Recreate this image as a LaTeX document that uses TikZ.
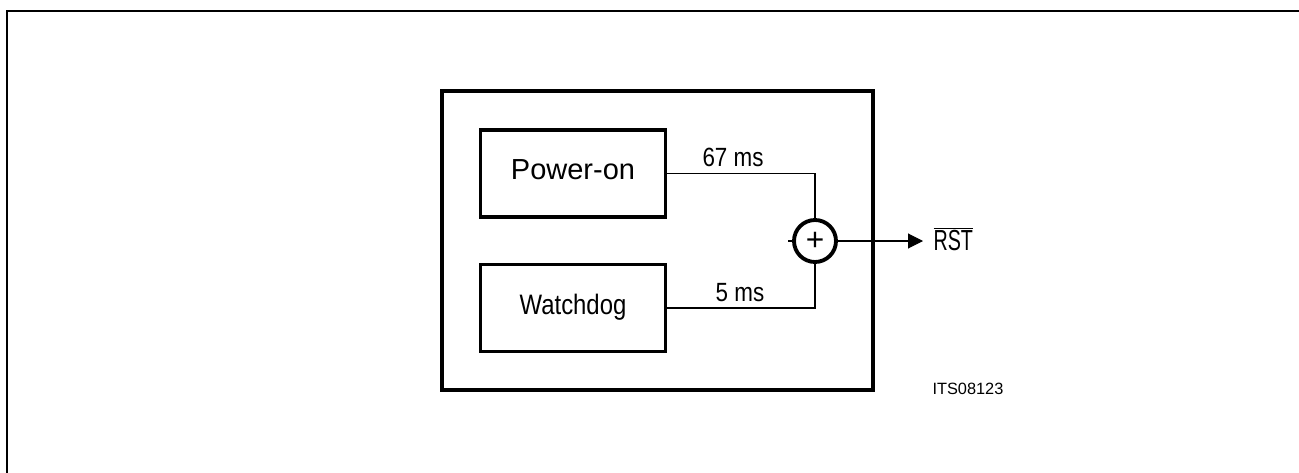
\documentclass[tikz,border=0pt]{standalone}
\usepackage{fontspec}
\setmainfont{Liberation Sans}
\newfontfamily\condfont[FakeStretch=0.85]{Liberation Sans}
\newfontfamily\rstfont[FakeStretch=0.68]{Liberation Sans}
\usetikzlibrary{arrows.meta}

\begin{document}
\begin{tikzpicture}[x=0.02cm,y=-0.02cm,line width=0.6pt,>={Triangle[length=0.3cm,width=0.3cm]},
  frame/.style={line width=1.6pt},
  heavy/.style={line width=2.2pt},
  block/.style={heavy,draw,minimum width=3.7cm,minimum height=1.74cm,
    inner sep=0pt,text depth=0pt,text height=0.716em},
  sumnode/.style={heavy,draw,circle,minimum size=0.84cm,inner sep=0pt}]
\useasboundingbox (0,0) rectangle (1299,473);
% ================= frame =================
\draw[frame] (7,473) |- (1299,11);
\draw[heavy] (442,91) rectangle (873,390);
% ================= blocks =================
\node[block,font=\fontsize{16.5pt}{18pt}\selectfont] (pwr) at (573,173.5) {Power-on};
\node[block,font=\condfont\fontsize{16pt}{18pt}\selectfont] (wdg) at (573,308) {Watchdog};
\node[sumnode,font=\fontsize{18pt}{20pt}\selectfont] (sum) at (815,241) {+};
% lines into the adder
\draw (pwr.east) -| (sum.north);
\draw (wdg.east) -| (sum.south);
\draw (788,241) -- (sum.west);
\node[anchor=base,font=\condfont\fontsize{15pt}{17pt}\selectfont] (t67) at (733,167) {67 ms};
\node[anchor=base,font=\condfont\fontsize{15pt}{17pt}\selectfont] (t5) at (740,301) {5 ms};
% output
\coordinate (out) at (923,241);
\draw[->] (sum.east) -- (out);
\node[anchor=base west,inner sep=0pt,font=\rstfont\fontsize{16.5pt}{18pt}\selectfont] (rst) at (933,251)
  {$\overline{\mbox{RST}}$};
\node[anchor=base west,inner sep=0pt,font=\fontsize{9.3pt}{11pt}\selectfont] (its) at (932,394) {ITS08123};
\end{tikzpicture}
\end{document}
